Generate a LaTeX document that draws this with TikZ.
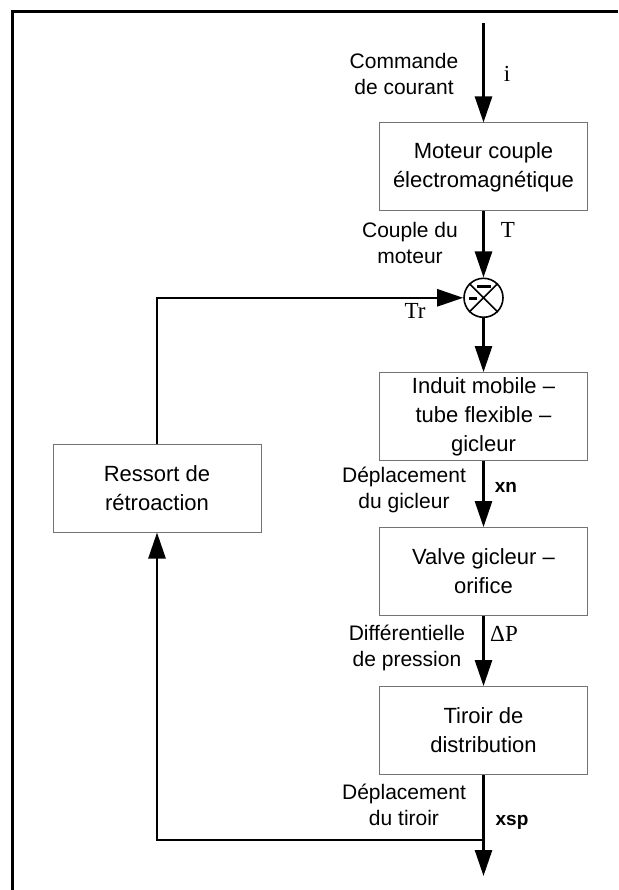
\documentclass[tikz,border=0pt]{standalone}
\usepackage{fontspec}
\setmainfont{Liberation Sans}
\newfontfamily\serifvar{Liberation Serif}
\usetikzlibrary{positioning}
\usetikzlibrary{arrows.meta}

\begin{document}
\begin{tikzpicture}
		[x=1pt, y=-1pt,
		block/.style={rectangle, draw=black!55, line width=1pt, minimum width=208pt, minimum height=88pt, align=center, font=\fontsize{22}{29}\selectfont},
		sumpoint/.style={circle, draw=black, line width=1.6pt, minimum size=39pt, inner sep=0pt},
		sig/.style={align=center, font=\fontsize{21}{26}\selectfont},
		var/.style={font=\serifvar\fontsize{23}{26}\selectfont},
		disp/.style={font=\bfseries\fontsize{19}{22}\selectfont},
		flow/.style={line width=2.6pt, -{Triangle[length=26pt, width=17pt]}},
		wire/.style={line width=2.6pt}]
		\useasboundingbox (0,0) rectangle (618,890);
		\draw[line width=3pt] (12.3,890) -- (12.3,12) -- (618,12);
		\node[block] (motor) at (483.5,167) {Moteur couple\\électromagnétique};
		\node[sumpoint, below=66pt of motor] (sum) {};
		\node[block, below=54pt of sum] (armature) {Induit mobile –\\tube flexible –\\gicleur};
		\node[block, below=66pt of armature] (nozzle) {Valve gicleur –\\orifice};
		\node[block, below=70pt of nozzle] (spool) {Tiroir de\\distribution};
		\node[block] (spring) at (157,488) {Ressort de\\rétroaction};
		\coordinate (in) at (483.5,23);
		\coordinate (out) at (483.5,876);
		\coordinate (branch) at (483.5,840);
		\draw[line width=1.6pt] (sum.north west) -- (sum.south east) (sum.north east) -- (sum.south west);
		\draw[line width=3pt] ([shift={(-6.5,-11.5)}]sum.center) -- ++(14,0);
		\draw[line width=3pt] ([shift={(-14.5,0.5)}]sum.center) -- ++(8,0);
		\draw[flow] (in) -- (motor);
		\draw[flow] (motor) -- (sum);
		\draw[flow] (sum) -- (armature);
		\draw[flow] (armature) -- (nozzle);
		\draw[flow] (nozzle) -- (spool);
		\draw[flow] (spool) -- (out);
		\draw[flow] (branch) -| (spring);
		\draw[flow] (spring) |- (sum);
		\node[sig] (cmdlbl) at (404,74) {Commande\\de courant};
		\node[var] (ilbl) at (507,74) {i};
		\node[sig] (torquelbl) at (410,243) {Couple du\\moteur};
		\node[var] (tlbl) at (508,230) {T};
		\node[var] (trlbl) at (415,311) {Tr};
		\node[sig] (nozzlelbl) at (404,490) {Déplacement\\du gicleur};
		\node[disp] (xnlbl) at (506,487) {xn};
		\node[sig] (presslbl) at (407,648) {Différentielle\\de pression};
		\node[var] (dplbl) at (504,634) {ΔP};
		\node[sig] (spoollbl) at (404,805) {Déplacement\\du tiroir};
		\node[disp] (xsplbl) at (512,822) {xsp};
	\end{tikzpicture}
\end{document}
